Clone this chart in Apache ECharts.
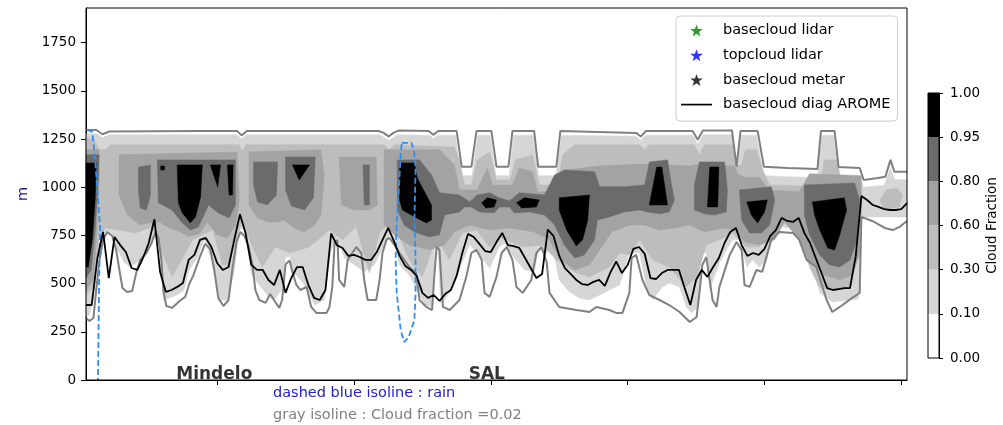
<!DOCTYPE html>
<html><head><meta charset="utf-8">
<script src="https://cdn.jsdelivr.net/npm/echarts@6/dist/echarts.min.js"></script>
<style>html,body{margin:0;padding:0;background:#fff}#c{width:1003px;height:425px}</style>
</head><body><div id="c"></div>
<script>
// ---------- data ----------
const xMin = 0, xMax = 144;            // hours
const yMin = 0, yMax = 1930;           // metres
const xTickValues = [23, 47, 71, 95, 119, 143];
const yTickValues = [0, 250, 500, 750, 1000, 1250, 1500, 1750];
const placeNames = ['Mindelo', 'SAL'];
const placeHours = [22.5, 70.3];
const legendNames = ['basecloud lidar', 'topcloud lidar', 'basecloud metar', 'basecloud diag AROME'];
const notes = ['dashed blue isoline : rain', 'gray isoline : Cloud fraction =0.02'];
const levelLabels = ['0.00', '0.10', '0.30', '0.60', '0.80', '0.95', '1.00'];
const levelColors = ['#ffffff', '#d6d6d6', '#bdbdbd', '#a3a3a3', '#6b6b6b', '#000000'];

// basecloud diag AROME, hourly (m)
const baseAROME = [389,389,633,768,529,742,700,664,581,571,633,711,834,560,457,467,483,503,623,649,
727,737,690,607,571,586,727,860,760,597,571,571,519,493,571,452,529,586,586,493,
426,415,467,760,700,685,644,649,638,623,623,664,727,789,721,644,592,571,540,452,
426,441,410,446,467,540,659,758,742,706,669,664,716,763,700,695,685,633,581,529,
550,780,747,644,581,550,519,498,493,509,519,488,560,615,555,597,680,690,654,529,
524,555,571,571,571,477,389,519,571,535,586,633,711,768,789,700,644,659,649,680,
747,778,841,825,820,841,763,711,633,555,477,467,472,477,477,640,955,934,908,898,
887,882,882,887,918];

// gray isoline (cloud fraction 0.02), upper branch [hour, m]
const isoTop = [[0,1297],[1.8,1297],[2.9,1275],[4.1,1289],[19.8,1292],[26.5,1292],[27.3,1269],[28.2,1292],
[51.3,1292],[52.2,1282],[53.1,1263],[53.9,1282],[54.8,1294],[60.1,1292],[60.9,1272],[61.8,1292],
[65.0,1292],[65.9,1107],[67.6,1107],[68.5,1292],[71.1,1292],[72.0,1107],[74.1,1107],[74.8,1292],
[78.6,1292],[79.3,1107],[82.5,1107],[83.2,1292],[89.8,1287],[96.5,1282],[97.3,1263],[98.2,1292],
[106.4,1292],[107.3,1246],[108.2,1295],[113.3,1295],[114.1,1107],[114.8,1292],[117.8,1292],
[118.9,1107],[123.1,1100],[128.3,1095],[128.9,1292],[131.3,1292],[132.0,1105],[135.7,1100],
[136.4,1038],[138.9,1048],[140.2,1054],[141.1,1142],[141.8,1080],[144,1081]];

// gray isoline (cloud fraction 0.02), lower branch [hour, m]
const isoBottom = [[0,322],[0.6,306],[1.3,322],[1.8,467],[2.3,612],[3.0,727],[3.7,768],[4.6,747],[5.3,675],
[5.8,581],[6.4,477],[7.2,457],[8.1,462],[8.8,555],[9.5,623],[10.6,659],[11.5,711],[12.2,768],[12.7,737],
[13.2,633],[13.6,457],[14.1,384],[15.1,374],[16.4,410],[17.4,431],[18.1,498],[18.8,540],[19.9,633],
[20.9,706],[21.8,680],[22.5,571],[23.2,426],[24.1,384],[25.0,415],[25.7,581],[26.4,716],[27.1,768],
[27.8,747],[28.5,695],[29.2,597],[29.7,467],[30.4,415],[31.5,400],[32.3,446],[33.2,405],[33.9,374],
[34.4,415],[35.0,600],[35.7,620],[36.2,560],[36.9,493],[37.6,467],[38.7,483],[39.5,379],[40.4,348],
[42.2,348],[42.7,379],[43.2,483],[43.6,711],[44.1,727],[44.4,519],[45.3,483],[45.9,623],[46.7,659],
[47.4,690],[48.3,659],[48.8,519],[49.4,415],[50.9,415],[51.5,519],[52.0,659],[52.7,727],[53.2,737],
[54.1,701],[55.0,659],[56.7,586],[57.9,555],[58.5,415],[59.7,379],[60.7,363],[61.1,545],[61.5,690],
[62.0,675],[62.6,379],[63.8,363],[65.5,415],[66.7,535],[67.6,659],[68.5,675],[69.4,623],[69.9,452],
[70.8,431],[72.0,535],[72.9,659],[73.8,690],[74.8,623],[75.5,483],[76.6,452],[78.1,519],[79.0,659],
[79.9,690],[80.8,612],[81.3,452],[83.0,379],[86.0,363],[88.3,353],[89.5,379],[91.8,363],[93.0,348],
[94.1,348],[95.3,452],[95.7,633],[96.5,649],[97.6,519],[98.8,441],[100.6,415],[102.3,389],[104.1,353],
[105.9,301],[107.1,327],[107.6,452],[108.1,597],[108.8,638],[109.9,415],[110.6,379],[111.1,483],
[112.9,649],[114.1,716],[115.0,675],[115.5,493],[116.4,483],[117.6,571],[118.6,561],[120.2,727],
[121.6,768],[124.0,763],[125.1,727],[126.4,623],[128.1,586],[129.9,415],[130.9,353],[132.2,379],
[134.4,426],[135.7,452],[136.0,846],[137.9,825],[140.1,789],[141.5,778],[142.7,794],[144,825]];

// rain isolines [hour, m]
const rainLeft = [[0.2,1298],[1.1,1287],[1.6,1142],[2.0,986],[2.5,778],[2.3,519],[2.1,0]];
const rainLoop = [[55.4,1230],[57.1,1230],[57.6,1178],[57.8,1090],[57.6,830],[57.8,623],[57.8,452],
[57.6,311],[56.6,223],[55.8,197],[55.2,259],[54.5,452],[54.3,623],[54.5,830],[54.9,1002],[55.2,1178],[55.4,1230]];

// filled contour regions [hour, m]
const band010 = [[
[0,1278],[1.8,1278],[2.9,1258],[4.1,1272],[26.5,1272],[27.3,1250],[28.2,1272],[51.5,1272],[53.2,1243],
[54.6,1272],[60.3,1270],[60.9,1252],[61.6,1270],[64.8,1270],[65.8,1060],[67.7,1060],[68.7,1270],[70.9,1270],
[71.9,1060],[74.2,1060],[75.0,1270],[78.4,1270],[79.4,1060],[82.4,1060],[83.4,1270],[96.5,1264],[97.3,1243],
[98.2,1270],[106.4,1270],[107.3,1225],[108.2,1272],[113.3,1272],[114.1,1070],[114.9,1270],[117.6,1270],
[118.9,1060],[123.1,1055],[128.3,1050],[129.0,1270],[131.1,1270],[132.1,1060],[135.7,1055],[136.4,1000],
[140.0,1010],[141.1,1100],[141.8,1040],[144,1040],
[144,846],[135.9,846],[135.5,420],[133.9,415],[130.9,405],[128.7,452],[127.4,600],[126.4,650],[125.1,747],
[123.9,800],[122.9,790],[121.6,800],[120.4,747],[119.4,623],[118.1,586],[116.9,623],[115.9,586],[114.6,730],
[113.4,727],[112.3,675],[111.1,607],[109.4,470],[108.8,660],[108.0,660],[107.4,380],[106.2,348],[105.3,379],
[104.1,483],[102.3,503],[101.1,483],[99.4,415],[98.3,483],[97.1,660],[95.3,660],[93.6,493],[91.8,467],
[90.1,441],[88.3,415],[86.5,426],[84.8,457],[83.0,519],[81.7,701],[80.4,640],[79.5,700],[78.6,560],
[76.9,571],[75.1,633],[73.4,710],[72.5,690],[70.8,581],[69.0,649],[67.3,701],[65.8,597],[64.6,493],
[62.9,415],[62.2,400],[61.7,720],[61.2,720],[60.7,380],[59.4,389],[58.1,467],[56.7,545],[55.0,597],
[53.6,770],[52.3,700],[50.6,597],[48.8,561],[47.1,597],[45.3,633],[44.1,740],[43.0,675],[41.8,415],
[40.1,389],[38.3,493],[36.9,545],[36.3,540],[35.8,640],[35.0,640],[34.6,480],[33.0,415],[31.8,441],
[30.4,493],[29.0,545],[27.8,790],[26.9,780],[26.0,561],[24.8,415],[23.4,415],[22.0,623],[20.8,730],
[19.5,633],[18.1,571],[17.2,467],[16.0,441],[14.6,426],[13.6,415],[12.5,790],[11.5,701],[10.2,650],
[9.4,620],[8.5,600],[7.6,590],[6.7,610],[5.5,680],[4.4,760],[3.4,770],[2.3,737],[1.5,467],[0.6,337],[0,330]
]];

const band030 = [[
[0,1256],[1.5,1246],[2.3,1194],[3.4,1194],[4.4,1220],[26.9,1220],[27.4,1183],[28.0,1220],[52.3,1220],
[53.2,1194],[54.1,1220],[64.6,1209],[65.5,1142],[66.4,1012],[67.6,1012],[68.6,1142],[70.8,1183],[72.0,1038],
[74.4,1038],[75.3,1142],[78.3,1168],[79.5,1012],[82.7,1012],[83.6,1168],[85.7,1220],[97.1,1220],[98.0,1194],
[98.8,1220],[106.7,1220],[107.6,1168],[108.5,1220],[113.4,1220],[114.1,1116],[115.0,1116],[115.7,1194],
[117.6,1194],[118.7,1090],[119.9,1012],[128.7,1002],[129.5,1142],[131.8,1142],[132.5,1012],[135.3,986],
[135.7,934],
[135.3,623],[133.9,483],[130.9,467],[128.6,483],[126.9,586],[125.1,778],[122.9,820],[120.4,794],[118.1,690],
[115.8,690],[113.4,763],[111.1,727],[108.8,700],[107.1,535],[105.3,483],[102.3,586],[99.4,623],[97.1,727],
[95.3,649],[93.6,659],[91.8,586],[88.3,535],[86.0,555],[82.5,623],[80.1,700],[76.6,690],[72.5,742],
[70.8,690],[68.5,778],[66.0,763],[63.7,623],[61.5,740],[59.0,535],[56.7,623],[53.7,830],[51.5,763],
[49.7,555],[47.4,794],[45.0,727],[42.7,778],[39.2,690],[35.7,659],[33.2,690],[30.9,586],[29.2,690],
[27.4,830],[25.0,597],[23.9,597],[23.2,675],[22.2,778],[18.7,727],[15.1,535],[13.9,623],[11.6,794],
[8.7,763],[5.7,778],[3.4,789],[2.3,727],[1.5,493],[0,441]
],[
[139.2,934],[140.4,986],[142.2,996],[143.2,960],[142.7,898],[140.1,882]
]];

const band060 = [
[[0,1194],[2.3,1194],[2.3,1038],[1.8,727],[1.3,519],[0,470]],
[[5.8,1168],[26.5,1183],[26.9,934],[26.2,804],[24.8,737],[23.0,753],[21.3,820],[19.9,760],[18.1,745],
 [16.4,770],[14.6,789],[12.9,820],[11.1,815],[9.4,804],[7.3,856],[5.8,960]],
[[28.6,1183],[41.2,1194],[41.8,1064],[41.2,856],[40.1,804],[38.3,768],[36.5,789],[34.8,830],[33.6,820],
 [31.8,820],[30.1,840],[28.6,908]],
[[44.4,1157],[50.9,1157],[51.1,908],[49.7,882],[47.1,882],[44.8,908]],
[[52.3,1194],[62.0,1194],[64.6,1116],[65.5,986],[68.6,986],[70.4,1100],[71.3,1012],[74.8,1012],[76.0,1100],
 [78.3,1080],[79.2,976],[82.7,976],[83.9,1090],[90.1,1110],[97.1,1120],[105.9,1110],[107.6,1120],[113.7,1110],
 [114.3,1070],[115.5,1050],[118.1,1050],[119.9,986],[125.1,976],[126.9,1070],[136.0,1060],
 [136.0,882],[135.7,649],[134.3,545],[132.2,519],[129.5,545],[126.9,612],[125.1,727],[122.5,820],[120.8,727],
 [118.1,701],[115.5,716],[113.7,778],[112.0,789],[108.5,768],[105.9,804],[103.2,789],[100.6,778],[98.0,804],
 [95.3,804],[92.2,768],[90.1,675],[88.3,597],[85.7,571],[83.0,633],[81.3,727],[78.6,768],[74.3,789],
 [70.8,778],[67.3,804],[64.6,768],[62.9,701],[60.2,675],[56.7,701],[54.1,753],[52.3,804]]
];

const band080 = [
[[0,1168],[2.3,1168],[2.2,1064],[1.6,778],[0.9,571],[0,529]],
[[9.2,1105],[11.3,1116],[11.3,960],[10.6,882],[9.5,893],[9.2,986]],
[[12.5,1142],[26.2,1142],[26.2,908],[25.1,841],[23.2,867],[21.5,908],[19.7,794],[18.3,778],[16.9,815],
 [15.1,882],[12.7,919]],
[[29.4,1131],[33.6,1131],[33.4,960],[31.8,908],[30.1,924],[29.4,1012]],
[[35.0,1157],[40.2,1157],[39.9,945],[38.3,882],[36.0,903],[35.0,986]],
[[48.6,1116],[49.7,1116],[49.7,908],[48.8,908]],
[[54.6,1142],[58.5,1142],[60.6,1064],[62.0,971],[65.5,960],[67.3,924],[68.6,960],[70.8,971],[72.5,945],
 [74.3,929],[76.0,971],[80.4,960],[82.2,1064],[83.9,1090],[89.2,1080],[90.1,1002],[94.4,1002],[98.0,1012],
 [98.8,1131],[102.0,1142],[102.7,1012],[103.2,934],
 [102.3,872],[100.6,862],[98.5,872],[97.1,882],[94.4,872],[91.8,846],[89.7,830],[89.2,727],[87.4,649],
 [85.7,633],[83.9,701],[82.2,804],[80.4,856],[77.8,872],[75.1,867],[74.3,898],[72.5,898],[71.6,867],
 [69.0,872],[67.6,898],[66.4,898],[65.5,872],[62.9,856],[62.0,753],[60.2,742],[57.6,768],[55.8,804],[54.6,882]],
[[107.6,1131],[112.0,1131],[112.5,986],[112.3,872],[110.2,856],[108.5,862],[106.7,882],[106.7,1012]],
[[114.6,986],[120.2,1002],[120.8,934],[119.9,804],[118.5,763],[116.4,763],[115.0,830]],
[[126.0,1012],[134.8,1022],[135.7,934],[135.2,727],[134.0,623],[132.2,586],[130.4,597],[128.7,649],
 [126.9,753],[126.0,856]]
];

const band095 = [
[[0,1126],[1.8,1126],[1.6,934],[1.1,727],[0.4,586],[0,586]],
[[13.1,1110],[13.8,1110],[13.8,1090],[13.1,1090]],
[[16.0,1116],[20.4,1116],[20.1,950],[19.2,846],[18.3,815],[16.9,867],[16.2,919]],
[[21.8,1116],[23.6,1116],[23.1,1002]],
[[24.8,1116],[25.8,1116],[25.7,960],[25.1,960]],
[[36.2,1116],[39.2,1116],[37.4,1038]],
[[55.0,1126],[57.6,1126],[58.1,1048],[60.6,908],[60.6,830],[59.7,815],[58.0,841],[55.5,882],[55.0,934]],
[[69.4,919],[70.4,945],[72.0,934],[71.6,898],[70.1,893]],
[[75.5,919],[76.9,945],[79.5,934],[79.0,898],[76.4,893]],
[[83.0,945],[88.3,960],[88.0,830],[87.1,727],[86.0,695],[84.3,778],[83.0,882]],
[[100.1,1105],[101.0,1105],[102.0,908],[98.8,908]],
[[109.4,1105],[111.0,1105],[110.8,898],[109.0,898]],
[[115.9,924],[119.5,934],[119.0,872],[117.8,815],[116.7,856]],
[[127.4,924],[133.0,945],[133.4,882],[132.2,753],[131.3,675],[130.1,685],[128.7,778],[127.8,856]]
];

// ---------- chart ----------
const FONT = 'DejaVu Sans';
const STAR = 'path://M0,-10L2.35,-3.24L9.51,-3.09L3.8,1.24L5.88,8.09L0,4L-5.88,8.09L-3.8,1.24L-9.51,-3.09L-2.35,-3.24Z';
const LINE_ICON = 'path://M0,0L62,0L62,3.4L0,3.4Z';
const bands = [band010, band030, band060, band080, band095];

function bandSeries(polys, color, z) {
  return {
    type: 'custom', xAxisIndex: 0, yAxisIndex: 0, silent: true, z: z,
    data: polys.map((p, i) => [p[0][0], p[0][1], i]),
    encode: {x: 0, y: 1},
    renderItem: function (params, api) {
      const poly = polys[params.dataIndex];
      return {type: 'polygon', shape: {points: poly.map(pt => api.coord(pt))},
              style: {fill: color, stroke: color, lineWidth: 0.5}};
    }
  };
}

const series = [];
bands.forEach((b, i) => series.push(bandSeries(b, levelColors[i + 1], 1 + i * 0.01)));

const grayLine = {color: '#808080', width: 2};
series.push({type: 'line', data: isoTop, symbol: 'none', lineStyle: grayLine, z: 3, silent: true});
series.push({type: 'line', data: isoBottom, symbol: 'none', lineStyle: grayLine, z: 3, silent: true});
const rainStyle = {color: '#2f8ff0', width: 1.8, type: [6, 3]};
series.push({type: 'line', data: rainLeft, symbol: 'none', lineStyle: rainStyle, z: 4, silent: true});
series.push({type: 'line', data: rainLoop, symbol: 'none', lineStyle: rainStyle, z: 4, silent: true});

series.push({name: legendNames[0], type: 'scatter', data: [], symbol: STAR, symbolSize: 12, itemStyle: {color: '#008000'}});
series.push({name: legendNames[1], type: 'scatter', data: [], symbol: STAR, symbolSize: 12, itemStyle: {color: '#0000ff'}});
series.push({name: legendNames[2], type: 'scatter', data: [], symbol: STAR, symbolSize: 12, itemStyle: {color: '#000000'}});
series.push({name: legendNames[3], type: 'line', data: baseAROME.map((v, i) => [i, v]), symbol: 'none',
  lineStyle: {color: '#000', width: 1.8}, itemStyle: {color: '#000'}, z: 5});

series.push({type: 'scatter', data: placeHours.map((h, i) => ({value: [h, 0], name: placeNames[i]})),
  symbolSize: 0, z: 6, silent: true,
  label: {show: true, position: 'top', distance: 0, offset: [0, 3], formatter: p => p.name,
          fontFamily: FONT, fontSize: 17, fontWeight: 'bold', color: '#000'}});

// colorbar
levelColors.forEach((c, i) => series.push({type: 'bar', xAxisIndex: 1, yAxisIndex: 1, stack: 'cb',
  data: [1], barWidth: '100%', itemStyle: {color: c}, silent: true}));

const option = {
  animation: false,
  textStyle: {fontFamily: FONT},
  grid: [
    {left: 86, top: 8, right: 96, bottom: 45, show: true, borderColor: '#000', borderWidth: 1,
     backgroundColor: 'transparent', z: 10},
    {left: 928, top: 93, width: 11, height: 265, show: true, borderColor: '#000', borderWidth: 1,
     backgroundColor: 'transparent', z: 10}
  ],
  xAxis: [
    {type: 'value', gridIndex: 0, min: xMin, max: xMax,
     axisLine: {show: true, lineStyle: {color: '#000'}},
     axisTick: {show: true, customValues: xTickValues, length: 5, lineStyle: {color: '#000'}},
     axisLabel: {show: false}, splitLine: {show: false}},
    {type: 'category', gridIndex: 1, data: ['cf'], show: false}
  ],
  yAxis: [
    {type: 'value', gridIndex: 0, min: yMin, max: yMax, name: 'm', nameLocation: 'middle', nameGap: 43,
     nameTextStyle: {color: '#1c1c80', fontSize: 14.5, fontFamily: FONT},
     axisLine: {show: true, lineStyle: {color: '#000'}},
     axisTick: {show: true, customValues: yTickValues, length: 5, lineStyle: {color: '#000'}},
     axisLabel: {customValues: yTickValues, formatter: v => String(v), margin: 10, fontSize: 13.5,
                 color: '#000', fontFamily: FONT},
     splitLine: {show: false}},
    {type: 'value', gridIndex: 1, min: 0, max: 6, position: 'right',
     name: 'Cloud Fraction', nameLocation: 'middle', nameRotate: 90, nameGap: 46,
     nameTextStyle: {color: '#000', fontSize: 13.5, fontFamily: FONT},
     axisLine: {show: true, lineStyle: {color: '#000'}},
     axisTick: {show: true, customValues: [0,1,2,3,4,5,6], length: 4, lineStyle: {color: '#000'}},
     axisLabel: {customValues: [0,1,2,3,4,5,6], formatter: v => levelLabels[v], margin: 11,
                 fontSize: 13.5, color: '#000', fontFamily: FONT},
     splitLine: {show: false}}
  ],
  legend: {
    orient: 'vertical', left: 676, top: 16, selectedMode: false,
    data: [{name: legendNames[0], icon: STAR}, {name: legendNames[1], icon: STAR},
           {name: legendNames[2], icon: STAR}, {name: legendNames[3], icon: LINE_ICON}],
    itemWidth: 31, itemHeight: 12, itemGap: 9.7, padding: [7, 7, 9, 5],
    borderColor: '#cccccc', borderWidth: 1, borderRadius: 4, backgroundColor: 'rgba(255,255,255,0.85)',
    textStyle: {fontFamily: FONT, fontSize: 14.5, color: '#000', padding: [0, 0, 0, 6]}
  },
  graphic: [
    {type: 'text', left: 273, top: 386, style: {text: notes[0], font: '14.5px "DejaVu Sans"', fill: '#2222c8'}},
    {type: 'text', left: 273, top: 408, style: {text: notes[1], font: '14.5px "DejaVu Sans"', fill: '#808080'}}
  ],
  series: series
};
const chart = echarts.init(document.getElementById('c'), null, {renderer: 'canvas'});
chart.setOption(option);
</script></body></html>
